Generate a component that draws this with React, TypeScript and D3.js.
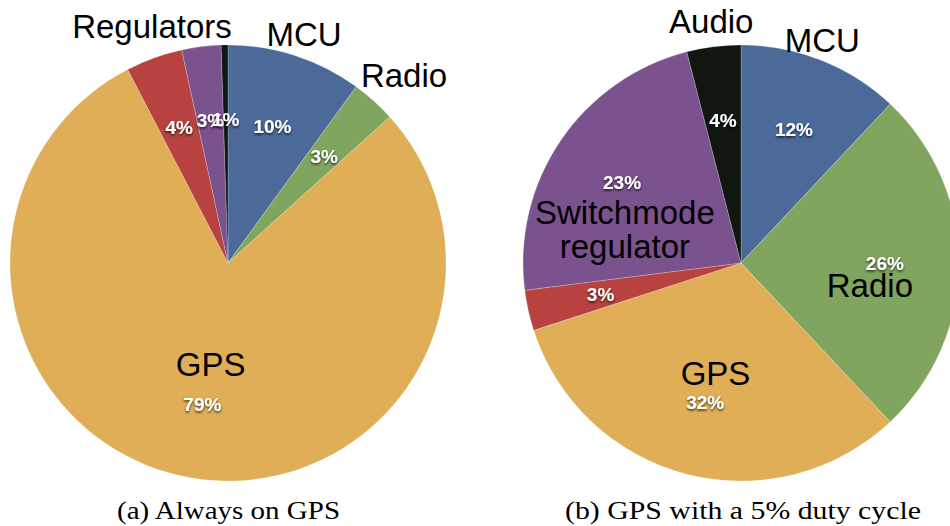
import React from "react";
import * as d3 from "d3";

// ---- data ----
const leftCategories = ["MCU", "Radio", "GPS", "Regulator A", "Regulator B", "Regulator C"];
const leftValues = [10, 3.3, 79, 4.2, 2.9, 0.5];
const rightCategories = ["MCU", "Radio", "GPS", "Linear regulator", "Switchmode regulator", "Audio"];
const rightValues = [12, 26, 32, 3, 23, 4];
const sliceColors = ["#4b6a9a", "#80a55e", "#dfae56", "#b7423f", "#7a528e", "#0f1710"];
const captions = ["(a) Always on GPS", "(b) GPS with a 5% duty cycle"];

// name labels: slice index, text lines, angle delta (deg) from slice mid, radius ratio
const leftNames = [
  { slice: 0, lines: ["MCU"], dAngle: 0.4, ratio: 1.105 },
  { slice: 1, lines: ["Radio"], dAngle: 1.2, ratio: 1.18 },
  { slice: 2, lines: ["GPS"], dAngle: -0.5, ratio: 0.47 },
  { slice: 3, lines: ["Regulators"], dAngle: 2, ratio: 1.14 },
];
const rightNames = [
  { slice: 0, lines: ["MCU"], dAngle: -1.6, ratio: 1.09 },
  { slice: 1, lines: ["Radio"], dAngle: 9.8, ratio: 0.6 },
  { slice: 2, lines: ["GPS"], dAngle: -1.4, ratio: 0.52 },
  { slice: 4, lines: ["Switchmode", "regulator"], dAngle: -17.9, ratio: 0.555 },
  { slice: 5, lines: ["Audio"], dAngle: 0.2, ratio: 1.12 },
];

const W = 950;
const H = 526;
const R = 218;
const CY = 263;

type NameLabel = { slice: number; lines: string[]; dAngle: number; ratio: number };

function Pie({ cx, values, categories, names }: { cx: number; values: number[]; categories: string[]; names: NameLabel[] }) {
  const pie = d3.pie<number>().sort(null).value((d) => d);
  const arcs = pie(values);
  const arc = d3.arc<d3.PieArcDatum<number>>().innerRadius(0).outerRadius(R);
  const labelArc = d3.arc<d3.PieArcDatum<number>>().innerRadius(R * 0.66).outerRadius(R * 0.66);
  const nameFont = 33;
  const lineH = 34;
  return (
    <g transform={`translate(${cx},${CY})`}>
      {arcs.map((a, i) => (
        <path key={categories[i]} d={arc(a) || ""} fill={sliceColors[i]} stroke="rgba(255,255,255,0.35)" strokeWidth={0.6} />
      ))}
      {arcs.map((a, i) => {
        const [x, y] = labelArc.centroid(a);
        return (
          <text key={"p" + i} x={x} y={y} dy="0.36em" textAnchor="middle" fill="#fff" fontWeight="bold"
            fontSize={19} fontFamily="Liberation Sans, Arial, sans-serif" filter="url(#shadow)">
            {Math.round(values[i])}%
          </text>
        );
      })}
      {names.map((n) => {
        const a = arcs[n.slice];
        const mid = (a.startAngle + a.endAngle) / 2 + (n.dAngle * Math.PI) / 180;
        const rr = R * n.ratio;
        const x = rr * Math.sin(mid);
        const y = -rr * Math.cos(mid);
        const y0 = y - ((n.lines.length - 1) * lineH) / 2;
        return (
          <text key={"n" + n.lines[0]} textAnchor="middle" fill="#000" fontSize={nameFont}
            fontFamily="Liberation Sans, Arial, sans-serif">
            {n.lines.map((l, k) => (
              <tspan key={k} x={x} y={y0 + k * lineH} dy="0.36em">{l}</tspan>
            ))}
          </text>
        );
      })}
    </g>
  );
}

export default function App() {
  return (
    <svg width={W} height={H} style={{ position: "absolute", left: 0, top: 0, background: "#fff" }}>
      <defs>
        <filter id="shadow" x="-30%" y="-30%" width="160%" height="180%">
          <feDropShadow dx="0" dy="1.5" stdDeviation="1.2" floodColor="#000" floodOpacity="0.75" />
        </filter>
      </defs>
      <rect width={W} height={H} fill="#fff" />
      <Pie cx={228} values={leftValues} categories={leftCategories} names={leftNames} />
      <Pie cx={741} values={rightValues} categories={rightCategories} names={rightNames} />
      <text x={228.5} y={519} textAnchor="middle" fontSize={25} fontFamily="Liberation Serif, serif" fill="#000"
        textLength={223} lengthAdjust="spacingAndGlyphs">{captions[0]}</text>
      <text x={743} y={519} textAnchor="middle" fontSize={25} fontFamily="Liberation Serif, serif" fill="#000"
        textLength={356} lengthAdjust="spacingAndGlyphs">{captions[1]}</text>
    </svg>
  );
}
